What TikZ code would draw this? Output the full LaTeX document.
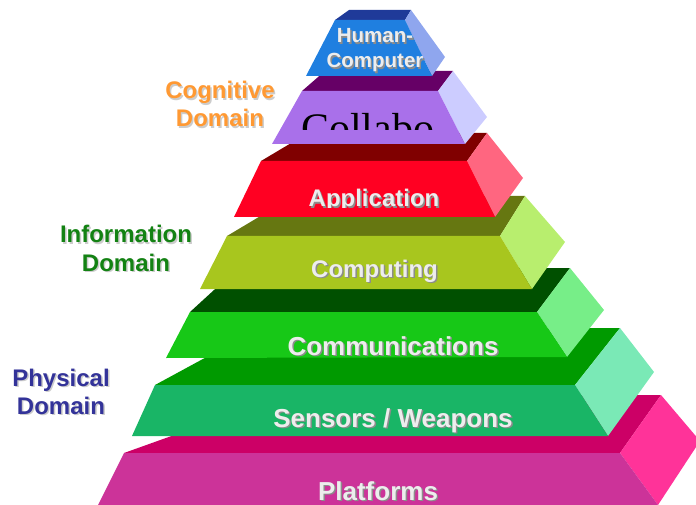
\documentclass[tikz,border=0pt]{standalone}
\usepackage{fontspec}
\setmainfont{Liberation Sans}
\newfontfamily\serifface{Liberation Serif}
\definecolor{hcFront}{HTML}{1F7FE0}
\definecolor{hcTop}{HTML}{1F3A99}
\definecolor{hcSide}{HTML}{8FA6EE}
\definecolor{coFront}{HTML}{A970EA}
\definecolor{coTop}{HTML}{660066}
\definecolor{coSide}{HTML}{CCCCFF}
\definecolor{apFront}{HTML}{FF0022}
\definecolor{apTop}{HTML}{800000}
\definecolor{apSide}{HTML}{FF6680}
\definecolor{cpFront}{HTML}{A8C61E}
\definecolor{cpTop}{HTML}{667711}
\definecolor{cpSide}{HTML}{B8EE6E}
\definecolor{cmFront}{HTML}{17C817}
\definecolor{cmTop}{HTML}{005000}
\definecolor{cmSide}{HTML}{77EE88}
\definecolor{swFront}{HTML}{19B566}
\definecolor{swTop}{HTML}{009A00}
\definecolor{swSide}{HTML}{7AE9B6}
\definecolor{plFront}{HTML}{CC3399}
\definecolor{plTop}{HTML}{CC0066}
\definecolor{plSide}{HTML}{FF3399}
\definecolor{cogCol}{HTML}{FF9933}
\definecolor{infCol}{HTML}{138213}
\definecolor{phyCol}{HTML}{333399}
\begin{document}
\begin{tikzpicture}[x=1pt,y=-1pt,
  lyr/.style={text=white!93!black, anchor=base, inner sep=0pt},
  lyrshd/.style={text=black!45, anchor=base, inner sep=0pt},
  big/.style={font=\bfseries\fontsize{26}{26}\selectfont},
  mid/.style={font=\bfseries\fontsize{24}{24}\selectfont},
  sml/.style={font=\bfseries\fontsize{20.5}{20.5}\selectfont},
  dom/.style={font=\bfseries\fontsize{24}{24}\selectfont, anchor=base, inner sep=0pt},
  domshd/.style={dom, text=black!20}]
\useasboundingbox (0,0) rectangle (696,505);
\clip (0,0) rectangle (696,505);

% Platforms
\fill[plTop] (124,453) -- (286,395) -- (661,395) -- (620,453) -- cycle;
\fill[plSide] (620,453) -- (661,395) -- (700,441) -- (658,505) -- cycle;
\fill[plFront] (124,453) -- (620,453) -- (658,505) -- (98,505) -- cycle;
% Sensors / Weapons
\fill[swTop] (155,385) -- (260,328) -- (620,328) -- (575,385) -- cycle;
\fill[swSide] (575,385) -- (620,328) -- (654,372) -- (608,436) -- cycle;
\fill[swFront] (155,385) -- (575,385) -- (608,436) -- (132,436) -- cycle;
% Communications
\fill[cmTop] (190,312) -- (238,268) -- (570,268) -- (537,312) -- cycle;
\fill[cmSide] (537,312) -- (570,268) -- (604,310) -- (567,357) -- cycle;
\fill[cmFront] (190,312) -- (537,312) -- (567,357) -- (166,358) -- cycle;
% Computing
\fill[cpTop] (227,236) -- (294,196) -- (525,196) -- (500,236) -- cycle;
\fill[cpSide] (500,236) -- (525,196) -- (565,242) -- (532,289) -- cycle;
\fill[cpFront] (227,236) -- (500,236) -- (532,289) -- (200,289) -- cycle;
% Application
\fill[apTop] (261,161) -- (308,133) -- (487,133) -- (467,161) -- cycle;
\fill[apSide] (467,161) -- (487,133) -- (523,178) -- (495,217) -- cycle;
\fill[apFront] (261,161) -- (467,161) -- (495,217) -- (234,217) -- cycle;
% Collaboration
\fill[coTop] (302,91) -- (325,71) -- (453,71) -- (438,91) -- cycle;
\fill[coSide] (438,91) -- (453,71) -- (487,117) -- (465,144) -- cycle;
\fill[coFront] (302,91) -- (438,91) -- (465,144) -- (272,144) -- cycle;
% Human-Computer
\fill[hcTop] (335,20) -- (349,10) -- (411,10) -- (405,20) -- cycle;
\fill[hcSide] (405,20) -- (411,10) -- (445,57) -- (432,76) -- cycle;
\fill[hcFront] (335,20) -- (405,20) -- (432,76) -- (306,76) -- cycle;

% layer texts
\node[lyrshd,big] (plS) at (379.5,501.5) {Platforms};
\node[lyr,big] (plT) at (378,500) {Platforms};
\node[lyrshd,big] (swS) at (394.5,428.5) {Sensors / Weapons};
\node[lyr,big] (swT) at (393,427) {Sensors / Weapons};
\node[lyrshd,big] (cmS) at (394.5,356.5) {Communications};
\node[lyr,big] (cmT) at (393,355) {Communications};
\node[lyrshd,mid] (cpS) at (376,278.5) {Computing};
\node[lyr,mid] (cpT) at (374.5,277) {Computing};
\begin{scope}
  \clip (230,150) rectangle (500,207.5);
  \node[lyrshd,mid] (apS) at (375.5,208.5) {Application};
  \node[lyr,mid] (apT) at (374,207) {Application};
\end{scope}
\begin{scope}
  \clip (290,100) rectangle (433.5,130);
  \node[anchor=base west, inner sep=0pt, font=\serifface\fontsize{42}{42}\selectfont] (coT) at (301,142.5) {Collaboration};
\end{scope}
\node[lyrshd,sml] (hcS1) at (376.5,44.5) {Human-};
\node[lyr,sml] (hcT1) at (375,43) {Human-};
\node[lyrshd,sml] (hcS2) at (376.5,69.5) {Computer};
\node[lyr,sml] (hcT2) at (375,68) {Computer};

% domain labels
\node[domshd] (cgS1) at (221.5,100.5) {Cognitive};
\node[dom,text=cogCol] (cg1) at (220,99) {Cognitive};
\node[domshd] (cgS2) at (221.5,128.5) {Domain};
\node[dom,text=cogCol] (cg2) at (220,127) {Domain};
\node[domshd] (inS1) at (127.5,244.5) {Information};
\node[dom,text=infCol] (in1) at (126,243) {Information};
\node[domshd] (inS2) at (127.5,272.5) {Domain};
\node[dom,text=infCol] (in2) at (126,271) {Domain};
\node[domshd] (phS1) at (62.5,387.5) {Physical};
\node[dom,text=phyCol] (ph1) at (61,386) {Physical};
\node[domshd] (phS2) at (62.5,415.5) {Domain};
\node[dom,text=phyCol] (ph2) at (61,414) {Domain};
\end{tikzpicture}
\end{document}
